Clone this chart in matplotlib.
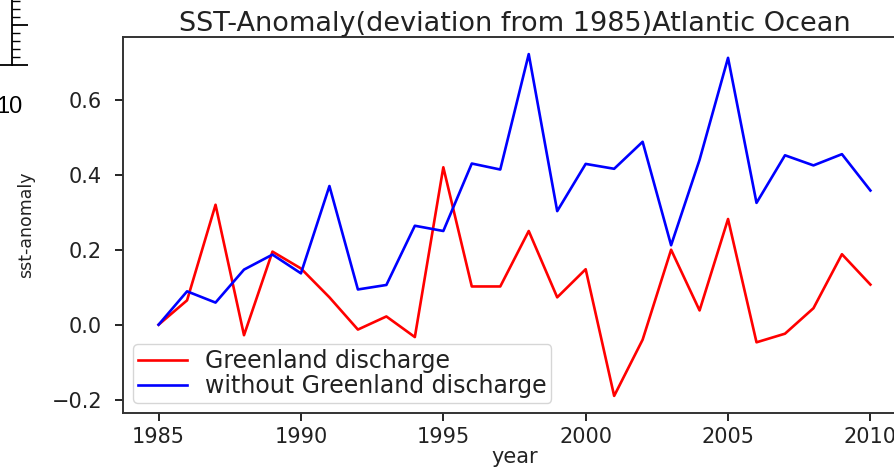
import matplotlib
matplotlib.use('Agg')
import matplotlib.pyplot as plt
from matplotlib.ticker import MultipleLocator

years = list(range(1985, 2011))
greenland = [0.0, 0.065, 0.32, -0.028, 0.195, 0.15, 0.073, -0.013, 0.022, -0.033,
             0.42, 0.102, 0.102, 0.25, 0.073, 0.148, -0.19, -0.04, 0.2, 0.038,
             0.282, -0.047, -0.024, 0.044, 0.188, 0.107]
without = [0.0, 0.089, 0.059, 0.147, 0.187, 0.137, 0.37, 0.094, 0.106, 0.264,
           0.25, 0.43, 0.414, 0.722, 0.303, 0.429, 0.416, 0.488, 0.212, 0.44,
           0.712, 0.325, 0.452, 0.425, 0.455, 0.358]

fig = plt.figure(figsize=(8.94, 4.68), dpi=100)

# main axes, right side runs past the edge of the picture
ax = fig.add_axes([123/894, 55/468, 783/894, 376/468])
ax.plot(years, greenland, color='red', lw=1.9, label='Greenland discharge')
ax.plot(years, without, color='blue', lw=1.9, label='without Greenland discharge')
ax.set_title('SST-Anomaly(deviation from 1985)Atlantic Ocean', fontsize=19.5, color='#222222', pad=2)
ax.set_xlabel('year', fontsize=15, labelpad=0, color='#222222')
ax.set_ylabel('sst-anomaly', fontsize=12.5, family=['Liberation Sans Narrow', 'DejaVu Sans Condensed', 'DejaVu Sans'],
              labelpad=12, color='#222222')
ax.set_yticks([-0.2, 0.0, 0.2, 0.4, 0.6])
ax.set_xticks([1985, 1990, 1995, 2000, 2005, 2010])
ax.tick_params(labelsize=15, length=6, width=1.2, labelcolor='#222222')
ax.tick_params(axis='y', pad=9)
ax.tick_params(axis='x', pad=4)
for s in ax.spines.values():
    s.set_linewidth(1.4)
    s.set_color('#333333')
ax.legend(loc='lower left', fontsize=17, handlelength=2.1, handletextpad=0.75,
          labelspacing=0.05, borderpad=0.2, borderaxespad=0.42, labelcolor='#222222')

# fragment of a neighbouring panel in the top-left corner
ax2 = fig.add_axes([-0.05, (468-65)/468, 0.05 + 12/894, 0.3])
ax2.set_ylim(0, 140)
ax2.set_xlim(0, 1)
ax2.yaxis.tick_right()
ax2.yaxis.set_major_locator(MultipleLocator(40))
ax2.yaxis.set_minor_locator(MultipleLocator(8))
ax2.tick_params(axis='y', which='major', length=11.5, width=1.3, labelright=False)
ax2.tick_params(axis='y', which='minor', length=5.8, width=1.0)
ax2.set_xticks([(9 + 44.7) / 56.7])
ax2.set_xticklabels(['10'], family='Liberation Sans', fontsize=17)
ax2.tick_params(axis='x', length=0, pad=22)
ax2.spines['top'].set_visible(False)
ax2.spines['left'].set_visible(False)
for s in ('right', 'bottom'):
    ax2.spines[s].set_linewidth(1.3)
ax2.patch.set_alpha(0)

fig.savefig('out.png', dpi=100)
